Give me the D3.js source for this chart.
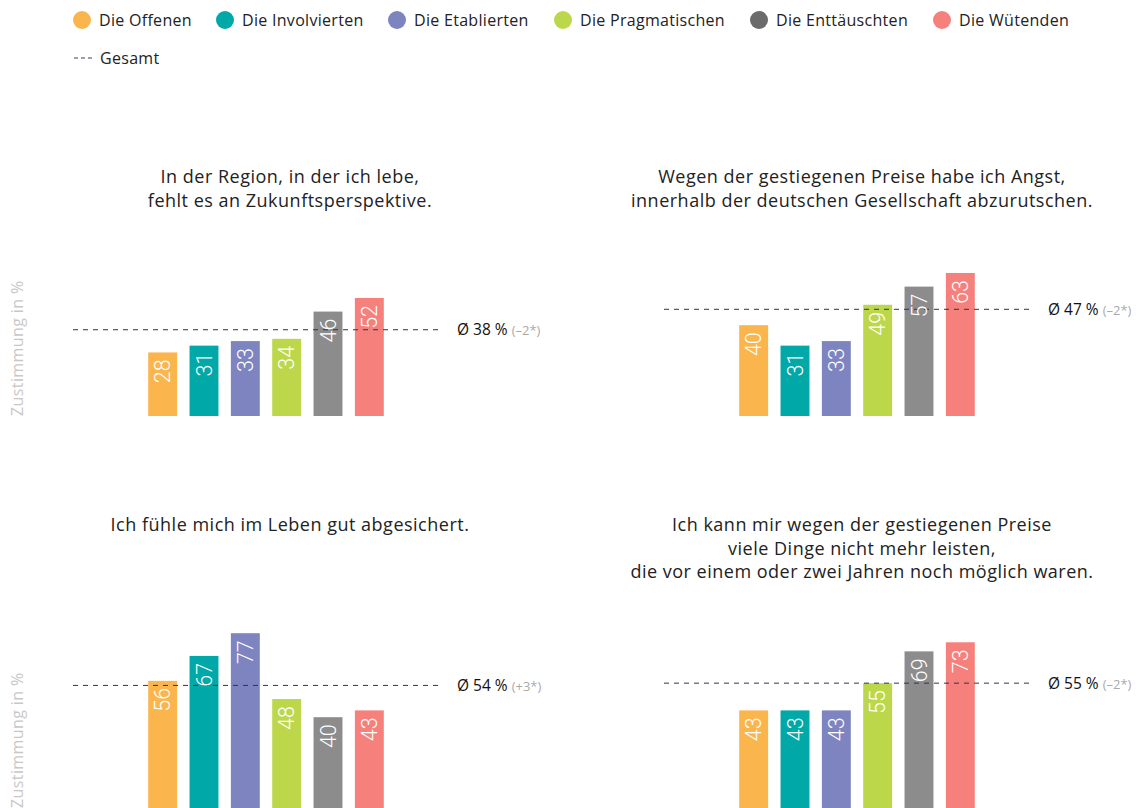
<!DOCTYPE html>
<html>
<head>
<meta charset="utf-8">
<script src="https://cdn.jsdelivr.net/npm/d3@7"></script>
<style>
	body { margin: 0; background: #fff; }
	svg { display: block; font-family: 'Open Sans', 'Noto Sans', sans-serif; }
</style>
</head>
<body>
<svg width="1138" height="808"></svg>
<script>
const groups = ['Die Offenen', 'Die Involvierten', 'Die Etablierten', 'Die Pragmatischen', 'Die Enttäuschten', 'Die Wütenden'];
const barColors = ['#fbb54d', '#00a8a8', '#7e84bf', '#bdd74b', '#8d8c8c', '#f6807b'];
const legendColors = ['#fbb54d', '#00a8a8', '#7e84bf', '#bdd74b', '#6b6b6b', '#f6807b'];

const titles = [
	['In der Region, in der ich lebe,', 'fehlt es an Zukunftsperspektive.'],
	['Wegen der gestiegenen Preise habe ich Angst,', 'innerhalb der deutschen Gesellschaft abzurutschen.'],
	['Ich fühle mich im Leben gut abgesichert.'],
	['Ich kann mir wegen der gestiegenen Preise', 'viele Dinge nicht mehr leisten,', 'die vor einem oder zwei Jahren noch möglich waren.']
];
const values = [
	[28, 31, 33, 34, 46, 52],
	[40, 31, 33, 49, 57, 63],
	[56, 67, 77, 48, 40, 43],
	[43, 43, 43, 55, 69, 73]
];
const averages = [38, 47, 54, 55];
const changes = ['(–2*)', '(–2*)', '(+3*)', '(–2*)'];
const yLabel = 'Zustimmung in %';

const svg = d3.select('svg');

// legend
const legendX = [73, 216, 388, 554, 750, 933];
const legend = svg.append('g');
groups.forEach((g, i) => {
	legend.append('circle').attr('cx', legendX[i] + 9).attr('cy', 20).attr('r', 9).attr('fill', legendColors[i]);
	legend.append('text').attr('x', legendX[i] + 26).attr('y', 26).attr('font-size', 16).attr('letter-spacing', 0.3).attr('fill', '#222').text(g);
});
legend.append('line').attr('x1', 74).attr('x2', 92).attr('y1', 58).attr('y2', 58)
	.attr('stroke', '#3a4060').attr('stroke-width', 1.2).attr('stroke-dasharray', '4,3');
legend.append('text').attr('x', 100).attr('y', 64).attr('font-size', 16).attr('letter-spacing', 0.3).attr('fill', '#222').text('Gesamt');

// panels
const panels = [
	{ x: 0, base: 416, titleX: 290, titleY: 183 },
	{ x: 591, base: 416, titleX: 862, titleY: 183 },
	{ x: 0, base: 808, titleX: 290, titleY: 531 },
	{ x: 591, base: 808, titleX: 862, titleY: 531 }
];

panels.forEach((p, k) => {
	const g = svg.append('g');

	const xScale = d3.scaleBand().domain(groups).range([ p.x + 142, p.x + 390 ]).paddingInner(0.3).paddingOuter(0.15);
	const yScale = d3.scaleLinear().domain([ 0, 100 ]).range([ p.base, p.base - 227 ]);

	const t = g.append('text').attr('text-anchor', 'middle').attr('font-size', 18).attr('letter-spacing', 0.5).attr('fill', '#222');
	titles[k].forEach((line, i) => {
		t.append('tspan').attr('x', p.titleX).attr('y', p.titleY + i * 23.5).text(line);
	});

	if (p.x === 0) {
		g.append('text')
			.attr('transform', `translate(23, ${p.base}) rotate(-90)`)
			.attr('font-size', 16).attr('letter-spacing', 0.4).attr('fill', '#c8c8c8').text(yLabel);
	}

	g.selectAll('rect').data(values[k]).enter().append('rect')
		.attr('x', (d, i) => xScale(groups[i]))
		.attr('y', (d) => yScale(d))
		.attr('width', xScale.bandwidth())
		.attr('height', (d) => p.base - yScale(d))
		.attr('fill', (d, i) => barColors[i]);

	const ay = yScale(averages[k]);
	g.append('line').attr('x1', p.x + 73).attr('x2', p.x + 440).attr('y1', ay).attr('y2', ay)
		.attr('stroke', '#2e3450').attr('stroke-width', 1).attr('stroke-dasharray', '5,5');

	g.selectAll('.val').data(values[k]).enter().append('text')
		.attr('class', 'val')
		.attr('transform', (d, i) => `translate(${xScale(groups[i]) + xScale.bandwidth() / 2}, ${yScale(d) + 7}) rotate(-90)`)
		.attr('text-anchor', 'end').attr('dy', '0.36em')
		.attr('font-family', 'Roboto, sans-serif')
		.attr('font-size', 21.5).attr('font-weight', 300).attr('fill', '#fff')
		.text((d) => d);

	const lab = g.append('text').attr('x', p.x + 457).attr('y', ay + 5.5).attr('font-size', 15.5).attr('fill', '#111');
	lab.append('tspan').text('Ø ' + averages[k] + ' %');
	lab.append('tspan').attr('dx', 4).attr('font-size', 13).attr('fill', '#aaa').text(changes[k]);
});
</script>
</body>
</html>
